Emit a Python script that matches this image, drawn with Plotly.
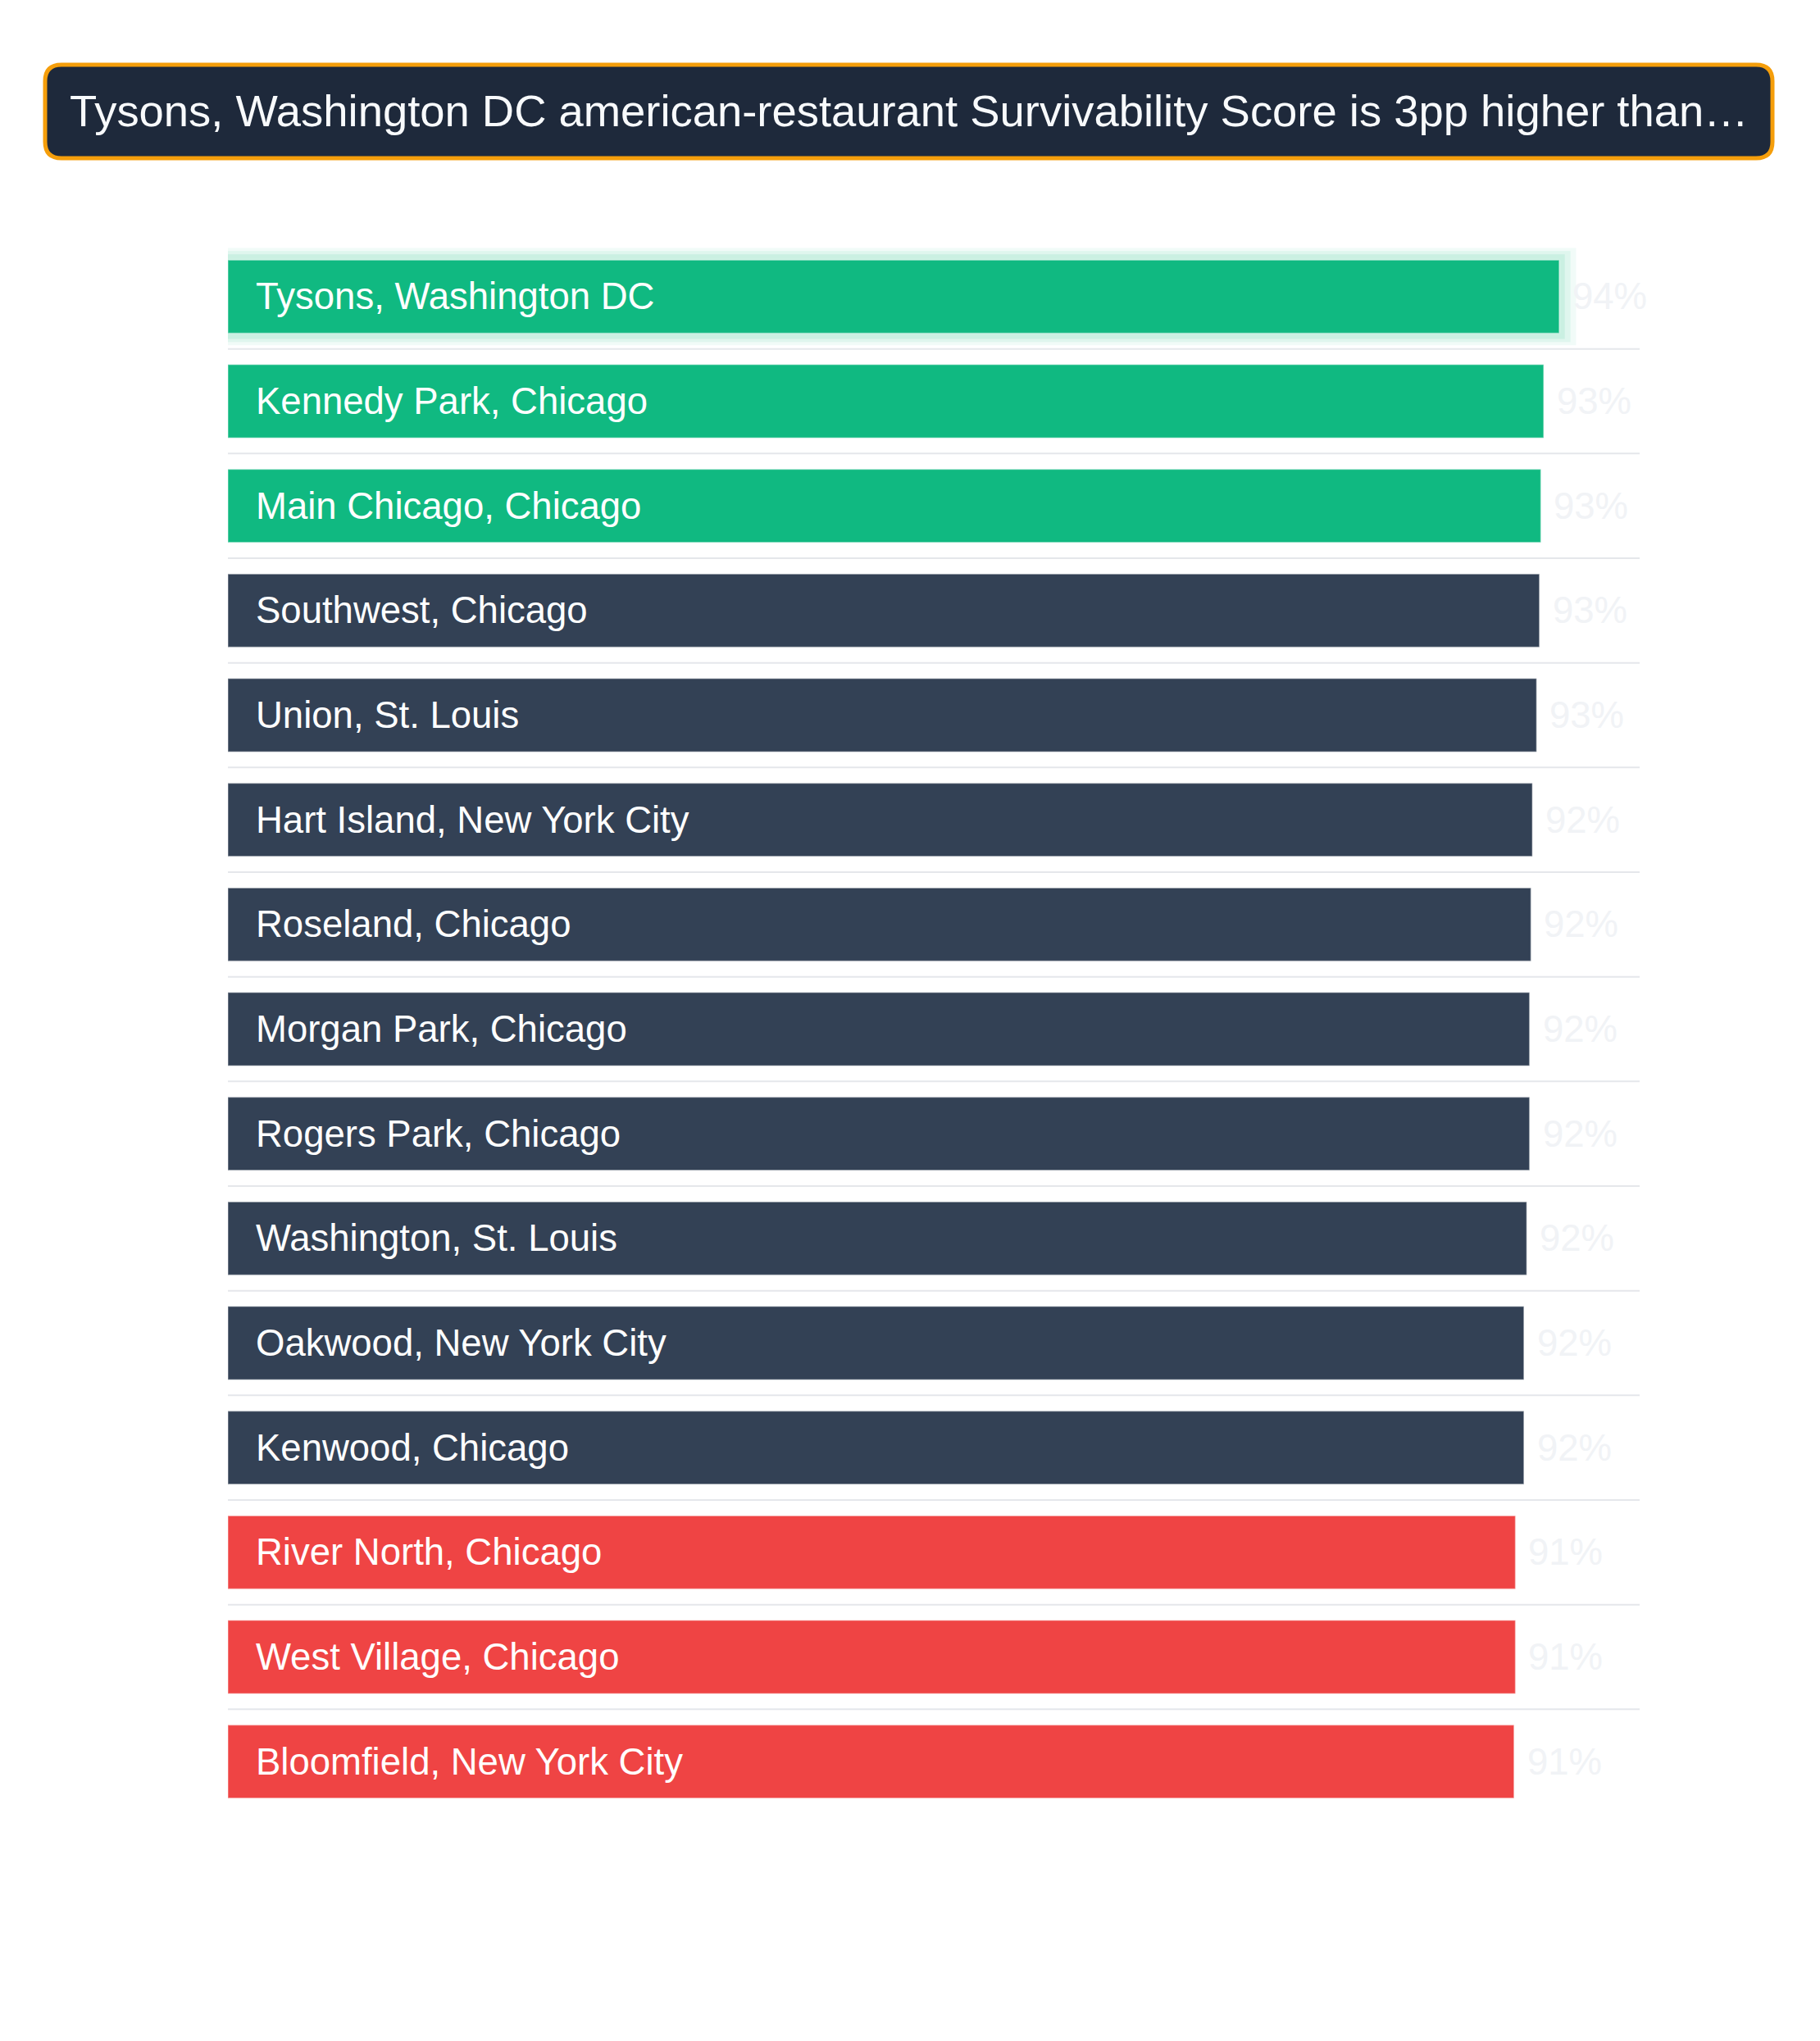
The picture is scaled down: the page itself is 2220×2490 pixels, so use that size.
import plotly.graph_objects as go

# neighbourhood survivability scores (%), top to bottom
neighbourhoods = [
    "Tysons, Washington DC",
    "Kennedy Park, Chicago",
    "Main Chicago, Chicago",
    "Southwest, Chicago",
    "Union, St. Louis",
    "Hart Island, New York City",
    "Roseland, Chicago",
    "Morgan Park, Chicago",
    "Rogers Park, Chicago",
    "Washington, St. Louis",
    "Oakwood, New York City",
    "Kenwood, Chicago",
    "River North, Chicago",
    "West Village, Chicago",
    "Bloomfield, New York City",
]
scores = [94.3, 93.2, 93.0, 92.9, 92.7, 92.4, 92.3, 92.2, 92.2, 92.0, 91.8, 91.8, 91.2, 91.2, 91.1]

title_text = "Tysons, Washington DC american-restaurant Survivability Score is 3pp higher than…"

W, H = 2220, 2490
ML, MR, MT, MB = 270, 228, 290, 285
PW, PH = W - ML - MR, H - MT - MB

GREEN = "#10b981"
SLATE = "#334155"
RED = "#ef4444"
FONT = "Helvetica, Arial, Liberation Sans, sans-serif"


def px_x(px):
    return (px - ML) / PW


def px_y(py):
    return (H - MB - py) / PH


n = len(scores)
colors = [GREEN if i < 3 else RED if i >= n - 3 else SLATE for i in range(n)]

fig = go.Figure()

# soft glow behind the leader bar
for ext, w, a in [(1.2, 0.93, 0.06), (0.8, 0.87, 0.08), (0.4, 0.81, 0.10)]:
    fig.add_trace(go.Bar(
        y=[neighbourhoods[0]], x=[scores[0] + ext], width=[w], orientation="h",
        marker=dict(color=f"rgba(16,185,129,{a})", line=dict(width=0)),
        hoverinfo="skip", showlegend=False,
    ))

fig.add_trace(go.Bar(
    y=neighbourhoods, x=scores, orientation="h",
    marker=dict(color=colors, line=dict(color="rgba(255,255,255,0.35)", width=1.5)),
    showlegend=False,
))

# names inside bars, values just outside
for name, v in zip(neighbourhoods, scores):
    fig.add_annotation(x=0, y=name, xref="x", yref="y", text=name, showarrow=False,
                       xanchor="left", yanchor="middle", xshift=32,
                       font=dict(family=FONT, size=45.5, color="#ffffff"))
    fig.add_annotation(x=v, y=name, xref="x", yref="y", text=f"{v:.0f}%", showarrow=False,
                       xanchor="left", yanchor="middle", xshift=14,
                       font=dict(family=FONT, size=45.5, color="#f1f3f6"))

# row separators
for i in range(n - 1):
    fig.add_shape(type="line", xref="paper", yref="y", x0=0, x1=1, y0=i + 0.5, y1=i + 0.5,
                  line=dict(color="#e5e7eb", width=2), layer="below")

# title pill with rounded corners
x0, x1 = px_x(47), px_x(2154)
y0, y1 = px_y(185), px_y(71)
rx, ry = 20 / PW, 20 / PH
path = (f"M {x0+rx},{y1} L {x1-rx},{y1} Q {x1},{y1} {x1},{y1-ry} "
        f"L {x1},{y0+ry} Q {x1},{y0} {x1-rx},{y0} L {x0+rx},{y0} "
        f"Q {x0},{y0} {x0},{y0+ry} L {x0},{y1-ry} Q {x0},{y1} {x0+rx},{y1} Z")
fig.add_shape(type="path", path=path, xref="paper", yref="paper",
              fillcolor="#1e293b", line=dict(color="#f59e0b", width=5))
fig.add_annotation(x=(x0 + x1) / 2, y=(y0 + y1) / 2, xref="paper", yref="paper",
                   text=title_text, showarrow=False, xanchor="center", yanchor="middle",
                   font=dict(family=FONT, size=54.4, color="#f8fafc"))

fig.update_layout(
    width=W, height=H, autosize=False,
    margin=dict(l=ML, r=MR, t=MT, b=MB),
    paper_bgcolor="white", plot_bgcolor="white",
    barmode="overlay", bargap=0.30,
    xaxis=dict(visible=False, range=[0, 100]),
    yaxis=dict(visible=False, autorange="reversed", categoryorder="array",
               categoryarray=neighbourhoods),
)

fig.write_html("out.html")
